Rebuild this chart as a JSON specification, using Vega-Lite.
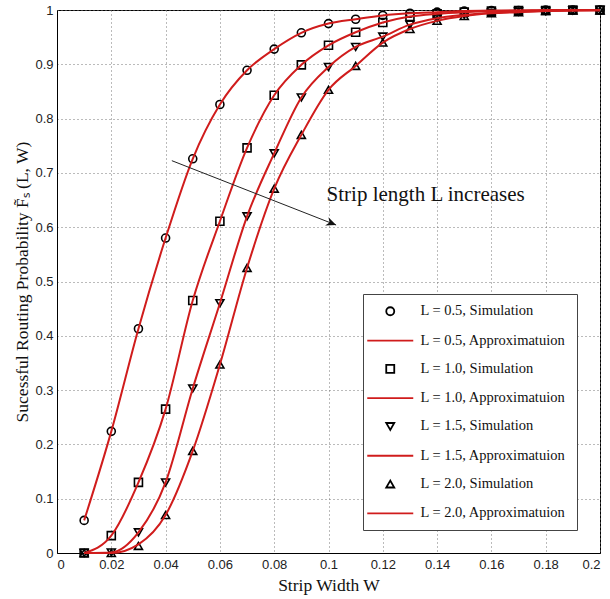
{
  "$schema": "https://vega.github.io/schema/vega-lite/v6.json",
  "width": 543,
  "height": 543,
  "autosize": {"type": "none"},
  "padding": {"left": 57, "top": 10, "right": 10, "bottom": 46},
  "background": "white",
  "config": {
    "view": {"stroke": "black", "strokeWidth": 1},
    "axis": {
      "domainColor": "black",
      "grid": true,
      "gridDash": [1, 3],
      "gridColor": "#777777",
      "gridWidth": 1,
      "ticks": false,
      "labelFont": "Liberation Sans",
      "labelFontSize": 13,
      "labelColor": "#222222",
      "titleFont": "Liberation Serif",
      "titleFontSize": 17.5,
      "titleFontWeight": "normal",
      "titleColor": "#111111"
    }
  },
  "datasets": {
    "curves": [
      {"W": 0.01, "L": "0.5", "series": "L = 0.5, Simulation", "sim": 0.06, "approx": 0.06},
      {"W": 0.02, "L": "0.5", "series": "L = 0.5, Simulation", "sim": 0.224, "approx": 0.224},
      {"W": 0.03, "L": "0.5", "series": "L = 0.5, Simulation", "sim": 0.413, "approx": 0.413},
      {"W": 0.04, "L": "0.5", "series": "L = 0.5, Simulation", "sim": 0.58, "approx": 0.58},
      {"W": 0.05, "L": "0.5", "series": "L = 0.5, Simulation", "sim": 0.726, "approx": 0.726},
      {"W": 0.06, "L": "0.5", "series": "L = 0.5, Simulation", "sim": 0.826, "approx": 0.826},
      {"W": 0.07, "L": "0.5", "series": "L = 0.5, Simulation", "sim": 0.889, "approx": 0.889},
      {"W": 0.08, "L": "0.5", "series": "L = 0.5, Simulation", "sim": 0.928, "approx": 0.928},
      {"W": 0.09, "L": "0.5", "series": "L = 0.5, Simulation", "sim": 0.958, "approx": 0.958},
      {"W": 0.10, "L": "0.5", "series": "L = 0.5, Simulation", "sim": 0.975, "approx": 0.975},
      {"W": 0.11, "L": "0.5", "series": "L = 0.5, Simulation", "sim": 0.983, "approx": 0.983},
      {"W": 0.12, "L": "0.5", "series": "L = 0.5, Simulation", "sim": 0.99, "approx": 0.99},
      {"W": 0.13, "L": "0.5", "series": "L = 0.5, Simulation", "sim": 0.994, "approx": 0.994},
      {"W": 0.14, "L": "0.5", "series": "L = 0.5, Simulation", "sim": 0.996, "approx": 0.996},
      {"W": 0.15, "L": "0.5", "series": "L = 0.5, Simulation", "sim": 0.998, "approx": 0.998},
      {"W": 0.16, "L": "0.5", "series": "L = 0.5, Simulation", "sim": 0.999, "approx": 0.999},
      {"W": 0.17, "L": "0.5", "series": "L = 0.5, Simulation", "sim": 0.999, "approx": 0.999},
      {"W": 0.18, "L": "0.5", "series": "L = 0.5, Simulation", "sim": 1.0, "approx": 1.0},
      {"W": 0.19, "L": "0.5", "series": "L = 0.5, Simulation", "sim": 1.0, "approx": 1.0},
      {"W": 0.20, "L": "0.5", "series": "L = 0.5, Simulation", "sim": 1.0, "approx": 1.0},
      {"W": 0.01, "L": "1.0", "series": "L = 1.0, Simulation", "sim": 0.0, "approx": 0.0},
      {"W": 0.02, "L": "1.0", "series": "L = 1.0, Simulation", "sim": 0.032, "approx": 0.032},
      {"W": 0.03, "L": "1.0", "series": "L = 1.0, Simulation", "sim": 0.13, "approx": 0.13},
      {"W": 0.04, "L": "1.0", "series": "L = 1.0, Simulation", "sim": 0.265, "approx": 0.265},
      {"W": 0.05, "L": "1.0", "series": "L = 1.0, Simulation", "sim": 0.465, "approx": 0.465},
      {"W": 0.06, "L": "1.0", "series": "L = 1.0, Simulation", "sim": 0.611, "approx": 0.611},
      {"W": 0.07, "L": "1.0", "series": "L = 1.0, Simulation", "sim": 0.746, "approx": 0.746},
      {"W": 0.08, "L": "1.0", "series": "L = 1.0, Simulation", "sim": 0.843, "approx": 0.843},
      {"W": 0.09, "L": "1.0", "series": "L = 1.0, Simulation", "sim": 0.899, "approx": 0.899},
      {"W": 0.10, "L": "1.0", "series": "L = 1.0, Simulation", "sim": 0.935, "approx": 0.935},
      {"W": 0.11, "L": "1.0", "series": "L = 1.0, Simulation", "sim": 0.959, "approx": 0.959},
      {"W": 0.12, "L": "1.0", "series": "L = 1.0, Simulation", "sim": 0.977, "approx": 0.977},
      {"W": 0.13, "L": "1.0", "series": "L = 1.0, Simulation", "sim": 0.988, "approx": 0.988},
      {"W": 0.14, "L": "1.0", "series": "L = 1.0, Simulation", "sim": 0.993, "approx": 0.993},
      {"W": 0.15, "L": "1.0", "series": "L = 1.0, Simulation", "sim": 0.996, "approx": 0.996},
      {"W": 0.16, "L": "1.0", "series": "L = 1.0, Simulation", "sim": 0.998, "approx": 0.998},
      {"W": 0.17, "L": "1.0", "series": "L = 1.0, Simulation", "sim": 0.999, "approx": 0.999},
      {"W": 0.18, "L": "1.0", "series": "L = 1.0, Simulation", "sim": 0.999, "approx": 0.999},
      {"W": 0.19, "L": "1.0", "series": "L = 1.0, Simulation", "sim": 1.0, "approx": 1.0},
      {"W": 0.20, "L": "1.0", "series": "L = 1.0, Simulation", "sim": 1.0, "approx": 1.0},
      {"W": 0.01, "L": "1.5", "series": "L = 1.5, Simulation", "sim": 0.0, "approx": 0.0},
      {"W": 0.02, "L": "1.5", "series": "L = 1.5, Simulation", "sim": 0.001, "approx": 0.001},
      {"W": 0.03, "L": "1.5", "series": "L = 1.5, Simulation", "sim": 0.038, "approx": 0.038},
      {"W": 0.04, "L": "1.5", "series": "L = 1.5, Simulation", "sim": 0.13, "approx": 0.13},
      {"W": 0.05, "L": "1.5", "series": "L = 1.5, Simulation", "sim": 0.303, "approx": 0.303},
      {"W": 0.06, "L": "1.5", "series": "L = 1.5, Simulation", "sim": 0.46, "approx": 0.46},
      {"W": 0.07, "L": "1.5", "series": "L = 1.5, Simulation", "sim": 0.62, "approx": 0.62},
      {"W": 0.08, "L": "1.5", "series": "L = 1.5, Simulation", "sim": 0.736, "approx": 0.736},
      {"W": 0.09, "L": "1.5", "series": "L = 1.5, Simulation", "sim": 0.839, "approx": 0.839},
      {"W": 0.10, "L": "1.5", "series": "L = 1.5, Simulation", "sim": 0.895, "approx": 0.895},
      {"W": 0.11, "L": "1.5", "series": "L = 1.5, Simulation", "sim": 0.932, "approx": 0.932},
      {"W": 0.12, "L": "1.5", "series": "L = 1.5, Simulation", "sim": 0.951, "approx": 0.951},
      {"W": 0.13, "L": "1.5", "series": "L = 1.5, Simulation", "sim": 0.973, "approx": 0.973},
      {"W": 0.14, "L": "1.5", "series": "L = 1.5, Simulation", "sim": 0.985, "approx": 0.985},
      {"W": 0.15, "L": "1.5", "series": "L = 1.5, Simulation", "sim": 0.991, "approx": 0.991},
      {"W": 0.16, "L": "1.5", "series": "L = 1.5, Simulation", "sim": 0.995, "approx": 0.995},
      {"W": 0.17, "L": "1.5", "series": "L = 1.5, Simulation", "sim": 0.997, "approx": 0.997},
      {"W": 0.18, "L": "1.5", "series": "L = 1.5, Simulation", "sim": 0.998, "approx": 0.998},
      {"W": 0.19, "L": "1.5", "series": "L = 1.5, Simulation", "sim": 0.999, "approx": 0.999},
      {"W": 0.20, "L": "1.5", "series": "L = 1.5, Simulation", "sim": 1.0, "approx": 1.0},
      {"W": 0.01, "L": "2.0", "series": "L = 2.0, Simulation", "sim": 0.0, "approx": 0.0},
      {"W": 0.02, "L": "2.0", "series": "L = 2.0, Simulation", "sim": 0.0, "approx": 0.0},
      {"W": 0.03, "L": "2.0", "series": "L = 2.0, Simulation", "sim": 0.013, "approx": 0.016},
      {"W": 0.04, "L": "2.0", "series": "L = 2.0, Simulation", "sim": 0.07, "approx": 0.07},
      {"W": 0.05, "L": "2.0", "series": "L = 2.0, Simulation", "sim": 0.188, "approx": 0.188},
      {"W": 0.06, "L": "2.0", "series": "L = 2.0, Simulation", "sim": 0.347, "approx": 0.347},
      {"W": 0.07, "L": "2.0", "series": "L = 2.0, Simulation", "sim": 0.525, "approx": 0.525},
      {"W": 0.08, "L": "2.0", "series": "L = 2.0, Simulation", "sim": 0.671, "approx": 0.671},
      {"W": 0.09, "L": "2.0", "series": "L = 2.0, Simulation", "sim": 0.77, "approx": 0.77},
      {"W": 0.10, "L": "2.0", "series": "L = 2.0, Simulation", "sim": 0.853, "approx": 0.853},
      {"W": 0.11, "L": "2.0", "series": "L = 2.0, Simulation", "sim": 0.897, "approx": 0.897},
      {"W": 0.12, "L": "2.0", "series": "L = 2.0, Simulation", "sim": 0.94, "approx": 0.94},
      {"W": 0.13, "L": "2.0", "series": "L = 2.0, Simulation", "sim": 0.965, "approx": 0.965},
      {"W": 0.14, "L": "2.0", "series": "L = 2.0, Simulation", "sim": 0.98, "approx": 0.98},
      {"W": 0.15, "L": "2.0", "series": "L = 2.0, Simulation", "sim": 0.989, "approx": 0.989},
      {"W": 0.16, "L": "2.0", "series": "L = 2.0, Simulation", "sim": 0.994, "approx": 0.994},
      {"W": 0.17, "L": "2.0", "series": "L = 2.0, Simulation", "sim": 0.996, "approx": 0.996},
      {"W": 0.18, "L": "2.0", "series": "L = 2.0, Simulation", "sim": 0.998, "approx": 0.998},
      {"W": 0.19, "L": "2.0", "series": "L = 2.0, Simulation", "sim": 0.999, "approx": 0.999},
      {"W": 0.20, "L": "2.0", "series": "L = 2.0, Simulation", "sim": 0.999, "approx": 0.999}
    ],
    "arrow": [
      {"W": 0.0423, "P": 0.7225, "W2": 0.1028, "P2": 0.604}
    ],
    "note": [
      {"W": 0.0993, "P": 0.659, "label": "Strip length L increases"}
    ]
  },
  "layer": [
    {
      "data": {"name": "curves"},
      "mark": {"type": "point", "filled": false, "strokeWidth": 1.6, "size": 64, "opacity": 1},
      "encoding": {
        "x": {
          "field": "W", "type": "quantitative", "title": "Strip Width W",
          "scale": {"domain": [0, 0.2], "nice": false, "zero": false},
          "axis": {"values": [0, 0.02, 0.04, 0.06, 0.08, 0.1, 0.12, 0.14, 0.16, 0.18, 0.2], "format": ".2~f", "labelPadding": 5, "titlePadding": 5}
        },
        "y": {
          "field": "sim", "type": "quantitative", "title": "Sucessful Routing Probability F̃ₛ (L, W)",
          "scale": {"domain": [0, 1], "nice": false},
          "axis": {"values": [0, 0.1, 0.2, 0.3, 0.4, 0.5, 0.6, 0.7, 0.8, 0.9, 1], "format": ".1~f", "labelPadding": 4, "titlePadding": 3}
        },
        "shape": {
          "field": "series", "type": "nominal",
          "scale": {
            "domain": ["L = 0.5, Simulation", "L = 0.5, Approximatuion", "L = 1.0, Simulation", "L = 1.0, Approximatuion", "L = 1.5, Simulation", "L = 1.5, Approximatuion", "L = 2.0, Simulation", "L = 2.0, Approximatuion"],
            "range": ["circle", "M-5.75,0L5.75,0", "square", "M-5.75,0L5.75,0", "triangle-down", "M-5.75,0L5.75,0", "triangle-up", "M-5.75,0L5.75,0"]
          },
          "legend": {
            "title": null,
            "orient": "none",
            "legendX": 306,
            "legendY": 284,
            "fillColor": "white",
            "strokeColor": "#444444",
            "padding": 10,
            "symbolSize": 64,
            "symbolStrokeWidth": 1.8,
            "symbolOffset": 10,
            "labelFont": "Liberation Serif",
            "labelFontSize": 14.5,
            "labelColor": "#111111",
            "labelOffset": 23,
            "rowPadding": 13.3,
            "labelLimit": 300
          }
        },
        "color": {
          "field": "series", "type": "nominal",
          "scale": {
            "domain": ["L = 0.5, Simulation", "L = 0.5, Approximatuion", "L = 1.0, Simulation", "L = 1.0, Approximatuion", "L = 1.5, Simulation", "L = 1.5, Approximatuion", "L = 2.0, Simulation", "L = 2.0, Approximatuion"],
            "range": ["#000000", "#d01c1c", "#000000", "#d01c1c", "#000000", "#d01c1c", "#000000", "#d01c1c"]
          },
          "legend": {
            "title": null,
            "orient": "none",
            "legendX": 306,
            "legendY": 284,
            "fillColor": "white",
            "strokeColor": "#444444",
            "padding": 10,
            "symbolSize": 64,
            "symbolStrokeWidth": 1.8,
            "symbolOffset": 10,
            "labelFont": "Liberation Serif",
            "labelFontSize": 14.5,
            "labelColor": "#111111",
            "labelOffset": 23,
            "rowPadding": 13.3,
            "labelLimit": 300
          }
        }
      }
    },
    {
      "data": {"name": "curves"},
      "mark": {"type": "line", "color": "#d01c1c", "strokeWidth": 2, "interpolate": "monotone"},
      "encoding": {
        "x": {"field": "W", "type": "quantitative", "title": "Strip Width W"},
        "y": {"field": "approx", "type": "quantitative", "title": "Sucessful Routing Probability F̃ₛ (L, W)"},
        "detail": {"field": "L", "type": "nominal"}
      }
    },
    {
      "data": {"name": "arrow"},
      "mark": {"type": "rule", "color": "#222222", "strokeWidth": 1},
      "encoding": {
        "x": {"field": "W", "type": "quantitative", "title": "Strip Width W"},
        "y": {"field": "P", "type": "quantitative", "title": "Sucessful Routing Probability F̃ₛ (L, W)"},
        "x2": {"field": "W2"},
        "y2": {"field": "P2"}
      }
    },
    {
      "data": {"name": "arrow"},
      "mark": {"type": "point", "shape": "M0,0L-1,-0.45L-0.7,0L-1,0.45Z", "filled": true, "color": "#111111", "size": 400, "angle": 21.4, "opacity": 1},
      "encoding": {
        "x": {"field": "W2", "type": "quantitative", "title": "Strip Width W"},
        "y": {"field": "P2", "type": "quantitative", "title": "Sucessful Routing Probability F̃ₛ (L, W)"}
      }
    },
    {
      "data": {"name": "note"},
      "mark": {"type": "text", "font": "Liberation Serif", "fontSize": 21, "align": "left", "baseline": "middle", "color": "#111111"},
      "encoding": {
        "x": {"field": "W", "type": "quantitative", "title": "Strip Width W"},
        "y": {"field": "P", "type": "quantitative", "title": "Sucessful Routing Probability F̃ₛ (L, W)"},
        "text": {"field": "label"}
      }
    }
  ]
}
